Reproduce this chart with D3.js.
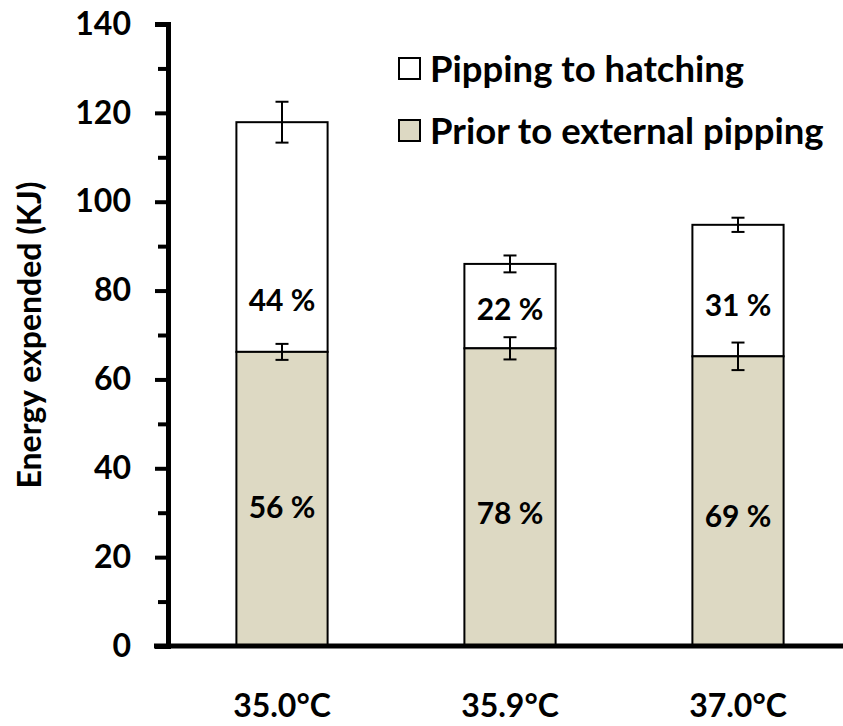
<!DOCTYPE html>
<html>
<head>
<meta charset="utf-8">
<title>Energy expended</title>
<script src="https://cdn.jsdelivr.net/npm/d3@7/dist/d3.min.js"></script>
<style>
    body{ margin: 0; background: #fff; }
    svg{ display: block; font-family: Lato, "Open Sans", sans-serif; font-weight: bold; }
    .axis path, .axis line{ stroke: #000; }
    .axis text{ fill: #000; }
</style>
</head>
<body>
<div id="chart"></div>
<script>
    // data
    var temps = ['35.0°C', '35.9°C', '37.0°C'];
    var prior = [66.2, 67.0, 65.2];
    var priorErr = [1.8, 2.5, 3.1];
    var total = [117.9, 86.0, 94.8];
    var totalErr = [4.6, 1.9, 1.6];
    var priorPct = ['56 %', '78 %', '69 %'];
    var pipPct = ['44 %', '22 %', '31 %'];
    var yTicks = [0, 20, 40, 60, 80, 100, 120, 140];
    var seriesNames = ['Pipping to hatching', 'Prior to external pipping'];
    var seriesColors = ['#ffffff', '#ddd9c3'];

    var width = 843, height = 726;
    var x0 = 168, y0 = 646;

    var svg = d3.select('#chart').append('svg')
        .attr('width', width).attr('height', height);

    var xScale = d3.scaleBand()
        .domain(temps)
        .range([x0, 852])
        .paddingInner(0.6)
        .paddingOuter(0.3);

    var yScale = d3.scaleLinear()
        .domain([0, 140])
        .range([y0, 24]);

    // stacked bars: upper (pipping to hatching) then lower (prior)
    var g = svg.append('g');
    temps.forEach(function(t, i){
        g.append('rect')
            .attr('x', xScale(t))
            .attr('y', yScale(total[i]))
            .attr('width', xScale.bandwidth())
            .attr('height', yScale(prior[i]) - yScale(total[i]))
            .attr('fill', seriesColors[0])
            .attr('stroke', '#000')
            .attr('stroke-width', 2);
        g.append('rect')
            .attr('x', xScale(t))
            .attr('y', yScale(prior[i]))
            .attr('width', xScale.bandwidth())
            .attr('height', yScale(0) - yScale(prior[i]))
            .attr('fill', seriesColors[1])
            .attr('stroke', '#000')
            .attr('stroke-width', 2);
    });

    // error bars
    function errBar(cx, v, e){
        var cap = 6.5;
        g.append('line')
            .attr('x1', cx).attr('x2', cx)
            .attr('y1', yScale(v + e)).attr('y2', yScale(v - e))
            .attr('stroke', '#000').attr('stroke-width', 2);
        [v + e, v - e].forEach(function(w){
            g.append('line')
                .attr('x1', cx - cap).attr('x2', cx + cap)
                .attr('y1', yScale(w)).attr('y2', yScale(w))
                .attr('stroke', '#000').attr('stroke-width', 2);
        });
    }
    temps.forEach(function(t, i){
        var cx = xScale(t) + xScale.bandwidth() / 2;
        errBar(cx, total[i], totalErr[i]);
        errBar(cx, prior[i], priorErr[i]);
    });

    // percent labels
    var pipLabelY = [300, 309, 305];
    var priorLabelY = [507, 513, 516];
    temps.forEach(function(t, i){
        var cx = xScale(t) + xScale.bandwidth() / 2;
        g.append('text')
            .attr('x', cx).attr('y', pipLabelY[i])
            .attr('dy', '0.35em')
            .attr('text-anchor', 'middle')
            .style('font-size', '30px')
            .text(pipPct[i]);
        g.append('text')
            .attr('x', cx).attr('y', priorLabelY[i])
            .attr('dy', '0.35em')
            .attr('text-anchor', 'middle')
            .style('font-size', '30px')
            .text(priorPct[i]);
    });

    // y axis with major and minor ticks
    var yAxis = d3.axisLeft(yScale).tickValues(yTicks).tickSize(13).tickPadding(24);
    var yAxisG = svg.append('g')
        .attr('class', 'axis')
        .attr('transform', 'translate(' + x0 + ',0)')
        .call(yAxis)
        .attr('font-family', null)
        .attr('font-size', null);
    yAxisG.select('.domain').attr('stroke-width', 5);
    yAxisG.selectAll('.tick line').attr('stroke-width', 4);
    yAxisG.selectAll('.tick text').style('font-size', '32px');

    var minor = d3.axisLeft(yScale).tickValues(d3.range(10, 140, 20)).tickSize(10).tickFormat('');
    var minorG = svg.append('g')
        .attr('class', 'axis')
        .attr('transform', 'translate(' + x0 + ',0)')
        .call(minor);
    minorG.select('.domain').remove();
    minorG.selectAll('.tick line').attr('stroke-width', 4);

    // x axis
    var xAxis = d3.axisBottom(xScale).tickSize(0).tickPadding(48);
    var xAxisG = svg.append('g')
        .attr('class', 'axis')
        .attr('transform', 'translate(0,' + y0 + ')')
        .call(xAxis)
        .attr('font-family', null)
        .attr('font-size', null);
    xAxisG.select('.domain')
        .attr('d', 'M154,0H843')
        .attr('stroke-width', 5);
    xAxisG.selectAll('.tick text').style('font-size', '32px');

    // y axis title
    svg.append('text')
        .attr('transform', 'translate(41,335) rotate(-90)')
        .attr('text-anchor', 'middle')
        .style('font-size', '32px')
        .text('Energy expended (KJ)');

    // legend
    var legend = svg.append('g').attr('transform', 'translate(399,58)');
    seriesNames.forEach(function(n, i){
        var row = legend.append('g').attr('transform', 'translate(0,' + (i * 62) + ')');
        row.append('rect')
            .attr('x', 0).attr('y', 0)
            .attr('width', 21).attr('height', 21)
            .attr('fill', seriesColors[i])
            .attr('stroke', '#000')
            .attr('stroke-width', 2);
        row.append('text')
            .attr('x', 31).attr('y', 11)
            .attr('dy', '0.35em')
            .style('font-size', '36.5px')
            .text(n);
    });
</script>
</body>
</html>
